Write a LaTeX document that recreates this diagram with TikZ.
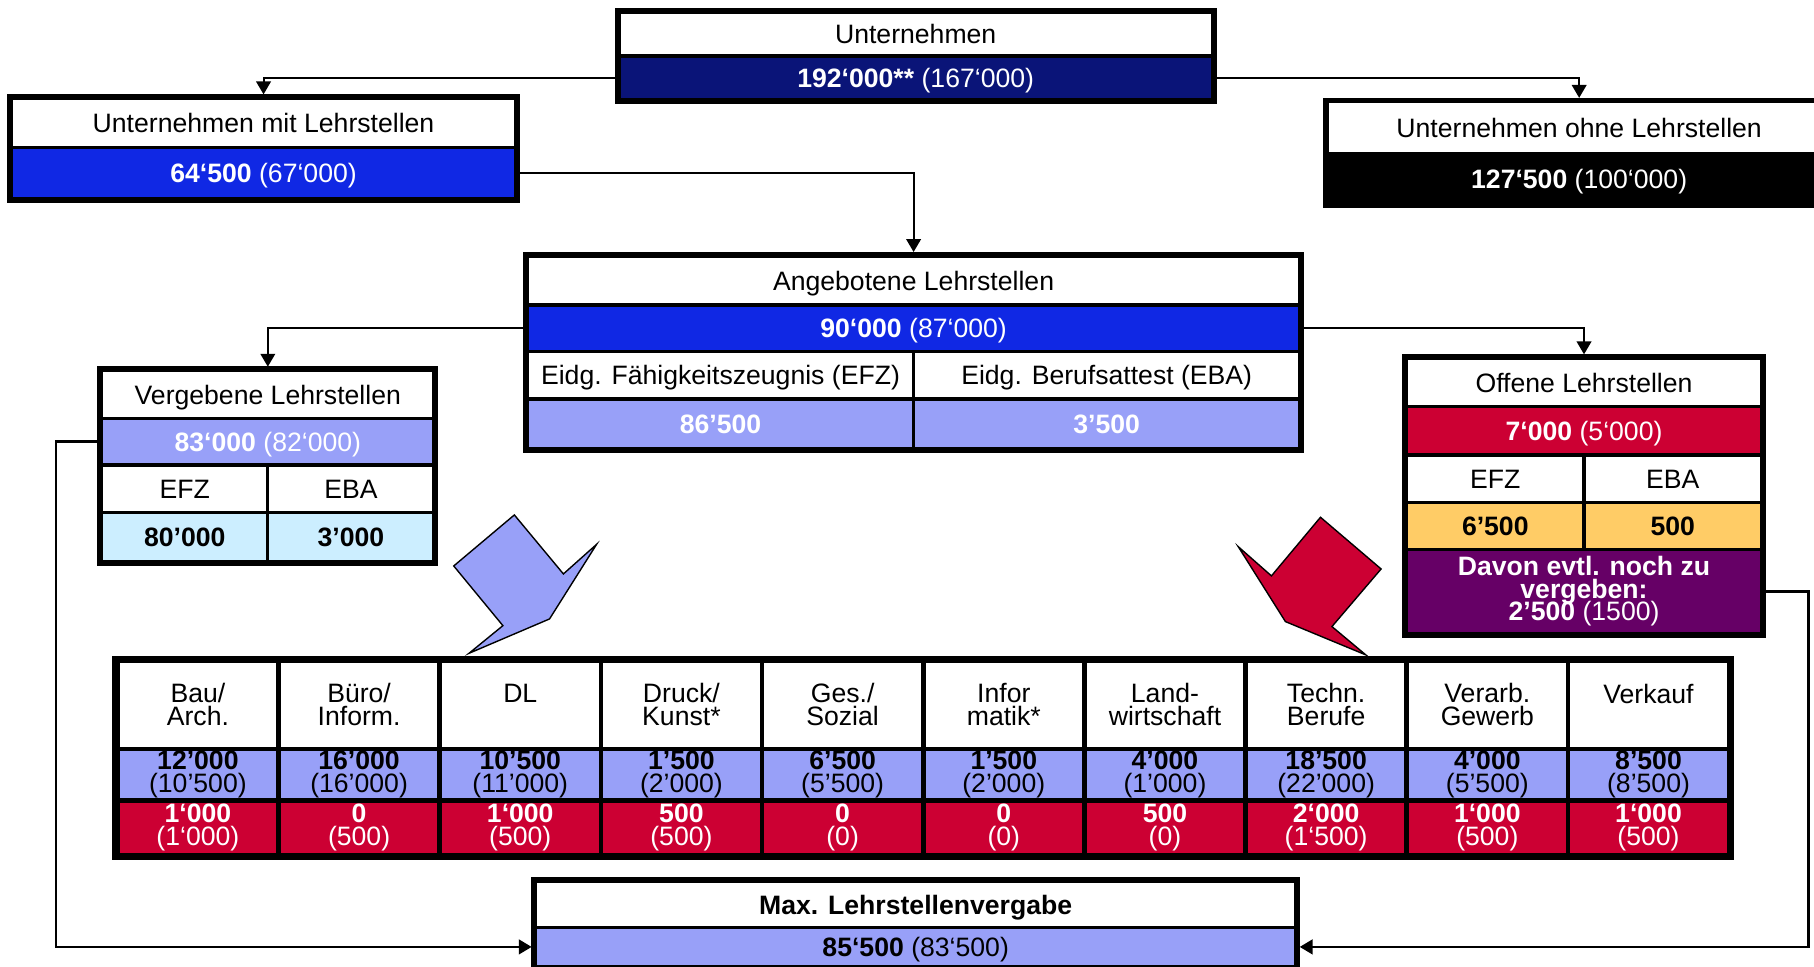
\documentclass[tikz,border=0pt]{standalone}
\usepackage{fontspec}
\setmainfont{Liberation Sans}
\usetikzlibrary{arrows.meta}
\definecolor{navy}{HTML}{0A1478}
\definecolor{royal}{HTML}{1028E4}
\definecolor{lavender}{HTML}{98A0F8}
\definecolor{icy}{HTML}{CCEEFF}
\definecolor{crimson}{HTML}{CC0033}
\definecolor{apricot}{HTML}{FFCC66}
\definecolor{plum}{HTML}{660066}

\begin{document}
\begin{tikzpicture}[x=1pt, y=-1pt,
  base/.style={draw, line width=1.4pt, inner sep=0pt, align=center, font=\fontsize{11.5}{13}\selectfont},
  cell/.style={base, text height=8.3pt, text depth=0pt},
  tcell/.style={base, line width=2pt, minimum width=69.66pt, font={\fontsize{11.5}{9.8}\selectfont\lineskiplimit=-20pt}},
  frame/.style={line width=2.3pt},
  link/.style={line width=0.9pt, shorten >=1pt, -{Triangle[length=5.6pt,width=6.3pt]}},
  pointer/.style={draw=black, line width=0.6pt, line join=miter}]
	\useasboundingbox (0,0) rectangle (784,417.5);
	% Unternehmen
	\node[cell, fill=white, minimum width=256.5pt, minimum height=18.7pt] (utitle) at (395.75,14.85) {Unternehmen};
	\node[cell, fill=navy, text=white, minimum width=256.5pt, minimum height=19pt] (uval) at (395.75,33.7) {\textbf{192‘000**} (167‘000)};
	\draw[frame] (utitle.north west) rectangle (uval.south east);
	% mit / ohne Lehrstellen
	\node[cell, fill=white, minimum width=218.2pt, minimum height=21.3pt] (mtitle) at (113.9,53.15) {Unternehmen mit Lehrstellen};
	\node[cell, fill=royal, text=white, minimum width=218.2pt, minimum height=22.2pt] (mval) at (113.9,74.9) {\textbf{64‘500} (67‘000)};
	\draw[frame] (mtitle.north west) rectangle (mval.south east);
	\node[cell, fill=white, minimum width=217.5pt, minimum height=22.5pt] (otitle) at (682.5,55.25) {Unternehmen ohne Lehrstellen};
	\node[cell, fill=black, text=white, minimum width=217.5pt, minimum height=21.35pt] (oval) at (682.5,77.2) {\textbf{127‘500} (100‘000)};
	\draw[frame] (otitle.north west) rectangle (oval.south east);
	% Angebotene
	\node[cell, fill=white, minimum width=333.9pt, minimum height=21.15pt] (atitle) at (394.85,121.2) {Angebotene Lehrstellen};
	\node[cell, fill=royal, text=white, minimum width=333.9pt, minimum height=20.2pt] (aval) at (394.85,141.9) {\textbf{90‘000} (87‘000)};
	\node[cell, fill=white, minimum width=166.95pt, minimum height=20.45pt] (aefz) at (311.4,162.2) {Eidg. Fähigkeitszeugnis (EFZ)};
	\node[cell, fill=white, minimum width=166.95pt, minimum height=20.45pt] (aeba) at (478.3,162.2) {Eidg. Berufsattest (EBA)};
	\node[cell, fill=lavender, text=white, minimum width=166.95pt, minimum height=21.3pt] (anefz) at (311.4,183.1) {\textbf{86’500}};
	\node[cell, fill=lavender, text=white, minimum width=166.95pt, minimum height=21.3pt] (aneba) at (478.3,183.1) {\textbf{3’500}};
	\draw[frame] (atitle.north west) rectangle (aneba.south east);
	% Vergebene
	\node[cell, fill=white, minimum width=143.6pt, minimum height=20.6pt] (vtitle) at (115.75,170.5) {Vergebene Lehrstellen};
	\node[cell, fill=lavender, text=white, minimum width=143.6pt, minimum height=20.15pt] (vval) at (115.75,190.9) {\textbf{83‘000} (82‘000)};
	\node[cell, fill=white, minimum width=71.8pt, minimum height=20.6pt] (vefz) at (79.85,211.25) {EFZ};
	\node[cell, fill=white, minimum width=71.8pt, minimum height=20.6pt] (veba) at (151.65,211.25) {EBA};
	\node[cell, fill=icy, minimum width=71.8pt, minimum height=21.2pt] (vnefz) at (79.85,232.15) {\textbf{80’000}};
	\node[cell, fill=icy, minimum width=71.8pt, minimum height=21.2pt] (vneba) at (151.65,232.15) {\textbf{3’000}};
	\draw[frame] (vtitle.north west) rectangle (vneba.south east);
	% Offene
	\node[cell, fill=white, minimum width=153.4pt, minimum height=20.9pt] (ftitle) at (684.6,165.3) {Offene Lehrstellen};
	\node[cell, fill=crimson, text=white, minimum width=153.4pt, minimum height=20.9pt] (fval) at (684.6,186.2) {\textbf{7‘000} (5‘000)};
	\node[cell, fill=white, minimum width=76.7pt, minimum height=20.45pt] (fefz) at (646.25,206.9) {EFZ};
	\node[cell, fill=white, minimum width=76.7pt, minimum height=20.45pt] (feba) at (722.95,206.9) {EBA};
	\node[cell, fill=apricot, minimum width=76.7pt, minimum height=20.3pt] (fnefz) at (646.25,227.25) {\textbf{6’500}};
	\node[cell, fill=apricot, minimum width=76.7pt, minimum height=20.3pt] (fneba) at (722.95,227.25) {\textbf{500}};
	\node[base, fill=plum, text=white, minimum width=153.4pt, minimum height=36.3pt,
	      font={\fontsize{11.5}{9.6}\selectfont\lineskiplimit=-20pt}] (fdav) at (684.6,255.55)
	      {\textbf{Davon evtl. noch zu}\\\textbf{vergeben:}\\\textbf{2’500} (1500)};
	\draw[frame] (ftitle.north west) rectangle (fdav.south east);
	% Berufsfelder
	\foreach \lab/\bv/\bp/\rv/\rp [count=\i from 0] in {
	  {Bau/\\Arch.}/12’000/10’500/1‘000/1‘000,
	  {Büro/\\Inform.}/16’000/16’000/0/500,
	  {DL\\\phantom{A}}/10’500/11’000/1‘000/500,
	  {Druck/\\Kunst*}/1’500/2’000/500/500,
	  {Ges./\\Sozial}/6’500/5’500/0/0,
	  {Infor\\matik*}/1’500/2’000/0/0,
	  {Land-\\wirtschaft}/4’000/1’000/500/0,
	  {Techn.\\Berufe}/18’500/22’000/2‘000/1‘500,
	  {Verarb.\\Gewerb}/4’000/5’500/1‘000/500,
	  {Verkauf\\\phantom{A}}/8’500/8’500/1‘000/500}
	{
	  \node[tcell, fill=white, minimum height=38.2pt] (h\i) at ({50.7+69.66*(\i+0.5)},304.6) {\lab};
	  \node[tcell, fill=lavender, minimum height=22.3pt] (b\i) at ({50.7+69.66*(\i+0.5)},334.85) {\textbf{\bv}\\(\bp)};
	  \node[tcell, fill=crimson, text=white, minimum height=23.5pt] (r\i) at ({50.7+69.66*(\i+0.5)},357.75) {\textbf{\rv}\\(\rp)};
	}
	\draw[frame] (h0.north west) rectangle (r9.south east);
	% Max. Lehrstellenvergabe
	\node[cell, fill=white, minimum width=328.5pt, minimum height=19.75pt] (xtitle) at (395.75,390.9) {\textbf{Max. Lehrstellenvergabe}};
	\node[cell, fill=lavender, minimum width=328.5pt, minimum height=17pt] (xval) at (395.75,409.25) {\textbf{85‘500} (83‘500)};
	\draw[frame] (xtitle.north west) rectangle (xval.south east);
	% Pfeile
	\draw[pointer, fill=lavender] (222.3,222.55) -- (196.1,244.6) -- (217.35,270.4) -- (202.7,282.35) -- (237.5,267.5) -- (257.85,235.25) -- (243.5,248.05) -- cycle;
	\draw[pointer, fill=crimson] (570.7,223.55) -- (596.9,245.9) -- (575.65,270.8) -- (590.3,283.05) -- (555.55,268.65) -- (535.15,236.25) -- (549.5,248.9) -- cycle;
	% Verbindungen
	\draw[link] (uval.west) -| (mtitle.north);
	\draw[link] (uval.east) -| (otitle.north);
	\draw[link] (mval.east) -| (atitle.north);
	\draw[link] (aval.west) -| (vtitle.north);
	\draw[link] (aval.east) -| (ftitle.north);
	\draw[link, line width=1.2pt] (vval.west) -- ++(-19,0) |- (xval.west);
	\draw[link, line width=1.2pt] (fdav.east) -- ++(19.5,0) |- (xval.east);
\end{tikzpicture}
\end{document}
